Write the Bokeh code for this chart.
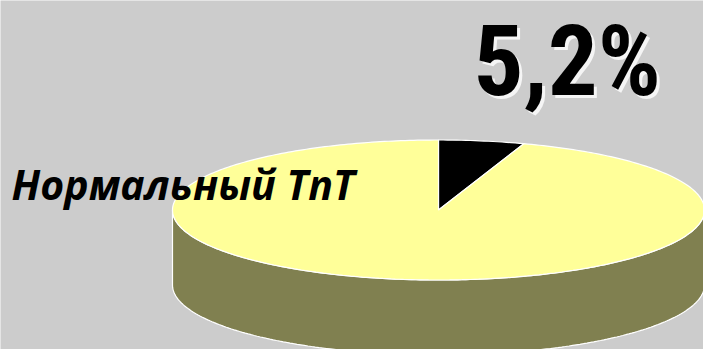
import numpy as np
from bokeh.plotting import figure
from bokeh.models import Range1d
from bokeh.embed import file_html
from bokeh.resources import INLINE
from bokeh.core.properties import value

# ---- data ----
categories = ["Повышенный TnT", "Нормальный TnT"]
shares = [5.2, 94.8]
top_colors = ["#000000", "#ffff99"]
side_color = "#808050"
shown_label = "Нормальный TnT"
pct_label = ("%.1f%%" % shares[0]).replace(".", ",")

# ---- geometry (pixel space, y downwards) ----
CX, CY = 438.0, 209.5
RX, RY = 266.0, 70.0
DEPTH = 75.0
BG = "#cccccc"

p = figure(width=703, height=349, output_backend="svg", toolbar_location=None,
           x_range=Range1d(0, 703), y_range=Range1d(349, 0),
           min_border=0, background_fill_color=BG, border_fill_color=BG,
           outline_line_color=None)
p.axis.visible = False
p.grid.visible = False


def pt(theta, dy=0.0):
    # theta: clockwise from 12 o'clock
    return CX + RX * np.sin(theta), CY - RY * np.cos(theta) + dy


# side (front half, visible)
th = np.linspace(np.pi / 2, 3 * np.pi / 2, 200)
tx, ty = pt(th)
bx, by = pt(th[::-1], DEPTH)
p.patch(np.concatenate([tx, bx]), np.concatenate([ty, by]),
        fill_color=side_color, line_color="white", line_width=1.2)

# top wedges
total = sum(shares)
start = 0.0
xs, ys = [], []
for s in shares:
    end = start + 2 * np.pi * s / total
    a = np.linspace(start, end, max(4, int(400 * s / total)))
    wx, wy = pt(a)
    xs.append(np.concatenate([[CX], wx]).tolist())
    ys.append(np.concatenate([[CY], wy]).tolist())
    start = end
p.patches(xs, ys, fill_color=top_colors, line_color="white", line_width=1.2)

# percentage label with light shadow
font_pct = value("Roboto Condensed")
PX, PY = 473, 60
p.text(x=[PX + 3], y=[PY + 3], text=[pct_label], text_font=font_pct, text_font_size="99px",
       text_font_style="bold", text_color="#ffffff", text_alpha=0.8,
       text_baseline="alphabetic")
p.text(x=[PX], y=[PY], text=[pct_label], text_font=font_pct, text_font_size="99px",
       text_font_style="bold", text_color="#000000", text_baseline="alphabetic")

# category label
p.text(x=[11], y=[183], text=[shown_label], text_font=value("Open Sans"),
       text_font_size="41px", text_font_style="bold italic", text_color="#000000",
       text_baseline="alphabetic")

open("out.html", "w").write(file_html(p, INLINE))
